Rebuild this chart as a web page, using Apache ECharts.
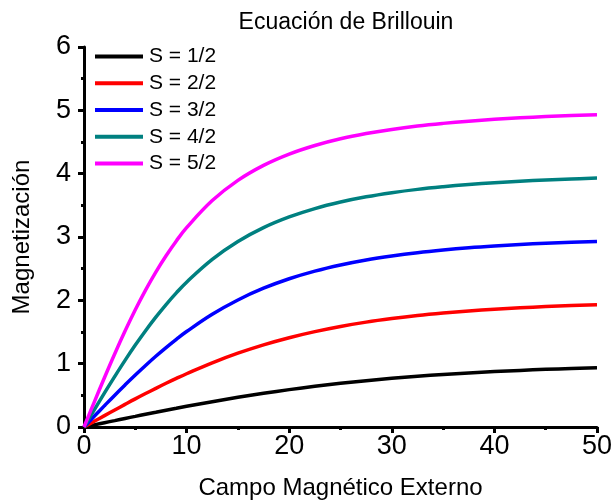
<!DOCTYPE html>
<html>
<head>
<meta charset="utf-8">
<script src="https://cdn.jsdelivr.net/npm/echarts@6/dist/echarts.min.js"></script>
<style>
  html, body { margin: 0; padding: 0; background: #fff; }
  #chart { width: 615px; height: 501px; }
</style>
</head>
<body>
<div id="chart"></div>
<script>
// Applied field (x axis)
const campo = [0, 1, 2, 3, 4, 5, 6, 7, 8, 9, 10, 12.5, 15, 17.5, 20, 22.5, 25, 27.5, 30, 32.5, 35, 37.5, 40, 42.5, 45, 47.5, 50];

// Magnetization for each spin value
const s1_2 = [0, 0.034, 0.068, 0.101, 0.135, 0.168, 0.201, 0.233, 0.265, 0.296, 0.327, 0.400, 0.469, 0.532, 0.590, 0.643, 0.690, 0.732, 0.769, 0.801, 0.829, 0.854, 0.875, 0.894, 0.910, 0.923, 0.935];
const s2_2 = [0, 0.090, 0.180, 0.269, 0.357, 0.444, 0.528, 0.610, 0.690, 0.767, 0.841, 1.013, 1.165, 1.297, 1.410, 1.506, 1.588, 1.656, 1.712, 1.760, 1.799, 1.832, 1.859, 1.882, 1.901, 1.917, 1.930];
const s3_2 = [0, 0.169, 0.337, 0.503, 0.664, 0.821, 0.972, 1.117, 1.254, 1.384, 1.507, 1.780, 2.006, 2.191, 2.341, 2.462, 2.559, 2.638, 2.701, 2.753, 2.795, 2.830, 2.858, 2.881, 2.901, 2.917, 2.930];
const s4_2 = [0, 0.271, 0.538, 0.799, 1.052, 1.293, 1.521, 1.735, 1.934, 2.118, 2.287, 2.647, 2.929, 3.148, 3.317, 3.449, 3.552, 3.634, 3.699, 3.752, 3.794, 3.829, 3.858, 3.881, 3.901, 3.917, 3.930];
const s5_2 = [0, 0.394, 0.782, 1.157, 1.514, 1.850, 2.161, 2.446, 2.704, 2.938, 3.147, 3.575, 3.894, 4.131, 4.309, 4.445, 4.551, 4.633, 4.699, 4.752, 4.794, 4.829, 4.858, 4.881, 4.901, 4.917, 4.930];

const seriesNames = ['S = 1/2', 'S = 2/2', 'S = 3/2', 'S = 4/2', 'S = 5/2'];
const seriesValues = [s1_2, s2_2, s3_2, s4_2, s5_2];
const seriesColors = ['#000000', '#ff0000', '#0000ff', '#008080', '#ff00ff'];

const FONT = '"Liberation Sans", Arial, sans-serif';

const chart = echarts.init(document.getElementById('chart'), null, { renderer: 'canvas' });

const axisCommon = {
  axisLine: { show: true, lineStyle: { color: '#000', width: 3 } },
  axisTick: { show: true, inside: false, length: 6, lineStyle: { color: '#000', width: 3 } },
  minorTick: { show: true, splitNumber: 2, length: 3, lineStyle: { color: '#000', width: 3 } },
  splitLine: { show: false },
  minorSplitLine: { show: false },
  axisLabel: { color: '#000', fontSize: 27, fontFamily: FONT },
  nameTextStyle: { color: '#000', fontSize: 24, fontFamily: FONT }
};

chart.setOption({
  animation: false,
  backgroundColor: '#fff',
  title: {
    text: 'Ecuación de Brillouin',
    left: 341,
    textAlign: 'center',
    top: 6,
    textStyle: { color: '#000', fontSize: 23, fontWeight: 'normal', fontFamily: FONT }
  },
  grid: { left: 84, right: 18, top: 47, bottom: 74, containLabel: false, outerBoundsMode: 'none' },
  legend: {
    orient: 'vertical',
    left: 95,
    top: 46,
    padding: 0,
    itemWidth: 48,
    itemHeight: 21,
    itemGap: 5.75,
    icon: 'path://M0,9 L48,9 L48,13 L0,13 Z',
    textStyle: { color: '#000', fontSize: 21, lineHeight: 21, fontFamily: FONT, padding: [0, 0, 0, 1] },
    data: seriesNames
  },
  xAxis: Object.assign({}, axisCommon, {
    type: 'value',
    min: 0,
    max: 50,
    interval: 10,
    name: 'Campo Magnético Externo',
    nameLocation: 'middle',
    nameGap: 49,
    axisLabel: Object.assign({}, axisCommon.axisLabel, { margin: 6 })
  }),
  yAxis: Object.assign({}, axisCommon, {
    type: 'value',
    min: 0,
    max: 6,
    interval: 1,
    name: 'Magnetización',
    nameLocation: 'middle',
    nameGap: 50,
    axisLabel: Object.assign({}, axisCommon.axisLabel, { margin: 13 })
  }),
  series: seriesNames.map((name, i) => ({
    name: name,
    type: 'line',
    data: campo.map((x, j) => [x, seriesValues[i][j]]),
    smooth: 0.4,
    symbol: 'none',
    color: seriesColors[i],
    lineStyle: { color: seriesColors[i], width: 3.5 },
    z: 2 + i
  }))
});
</script>
</body>
</html>
